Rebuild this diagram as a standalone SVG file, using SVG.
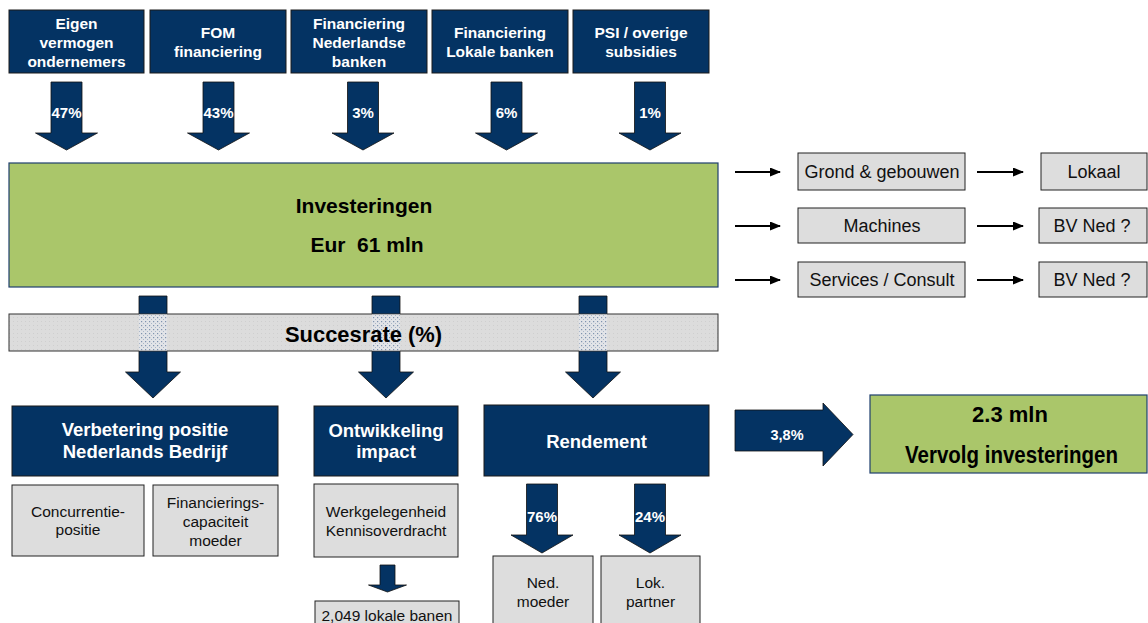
<svg xmlns="http://www.w3.org/2000/svg" width="1148" height="623" viewBox="0 0 1148 623">
<style>
.navy{fill:#043363;stroke:#1a1a1a;stroke-width:1}
.green{fill:#AAC66A;stroke:#1f3f6e;stroke-width:1.2}
.gray{fill:#DDDDDD;stroke:#222;stroke-width:1}
.arr{fill:#043363;stroke:#111;stroke-width:0.8}
.wb{font-family:"Liberation Sans",Arial,sans-serif;font-weight:bold;fill:#fff;text-anchor:middle}
.bb{font-family:"Liberation Sans",Arial,sans-serif;font-weight:bold;fill:#000;text-anchor:middle}
.n{font-family:"Liberation Sans",Arial,sans-serif;fill:#111;text-anchor:middle}
.line{stroke:#000;stroke-width:1.8;fill:none}
</style>
<defs>
<marker id="ah" markerUnits="userSpaceOnUse" markerWidth="11" markerHeight="9" refX="10" refY="4.5" orient="auto">
<path d="M0 0 L11 4.5 L0 9 Z" fill="#000"/>
</marker>
<pattern id="bandpat" width="4" height="4" patternUnits="userSpaceOnUse">
<rect width="4" height="4" fill="#DCDCDC"/>
<rect x="1" y="1" width="1" height="1" fill="#CFCFCF"/>
</pattern>
<pattern id="shaftpat" width="4" height="4" patternUnits="userSpaceOnUse">
<rect width="4" height="4" fill="#E2E4E8"/>
<rect x="1" y="1" width="1.2" height="1.2" fill="#7F93AE"/>
<rect x="3" y="3" width="1" height="1" fill="#A9B6C8"/>
</pattern>
</defs>

<g id="connectors">
<path class="arr" d="M51 82 H82 V133 H97.5 L66.5 150 L35.5 133 H51 Z"/>
<path class="arr" d="M203 82 H234 V133 H249.5 L218.5 150 L187.5 133 H203 Z"/>
<path class="arr" d="M347.5 82 H378.5 V133 H394 L363 150 L332 133 H347.5 Z"/>
<path class="arr" d="M491 82 H522 V133 H537.5 L506.5 150 L475.5 133 H491 Z"/>
<path class="arr" d="M634.5 82 H665.5 V133 H681 L650 150 L619 133 H634.5 Z"/>
<text class="wb" x="66.5" y="118" font-size="15">47%</text>
<text class="wb" x="218.5" y="118" font-size="15">43%</text>
<text class="wb" x="363" y="118" font-size="15">3%</text>
<text class="wb" x="506.5" y="118" font-size="15">6%</text>
<text class="wb" x="650" y="118" font-size="15">1%</text>

<path class="arr" d="M139 296 H167 V372 H180.5 L153 398 L125.5 372 H139 Z"/>
<path class="arr" d="M372 296 H400 V372 H413.5 L386 398 L358.5 372 H372 Z"/>
<path class="arr" d="M579 296 H607 V372 H620.5 L593 398 L565.5 372 H579 Z"/>

<path class="arr" d="M380 565 H395 V585 H406.5 L387.5 592 L368.5 585 H380 Z"/>

<path class="arr" d="M526.5 484 H557.5 V535 H573 L542 553 L511 535 H526.5 Z"/>
<path class="arr" d="M634.5 484 H665.5 V535 H681 L650 553 L619 535 H634.5 Z"/>
<text class="wb" x="542" y="522" font-size="15">76%</text>
<text class="wb" x="650" y="522" font-size="15">24%</text>

<path class="arr" d="M735 410 H823 V403 L853 434.5 L823 466 V451 H735 Z"/>
<text class="wb" x="787" y="440" font-size="14.5">3,8%</text>

<line class="line" x1="735" y1="172" x2="780" y2="172" marker-end="url(#ah)"/>
<line class="line" x1="735" y1="226" x2="780" y2="226" marker-end="url(#ah)"/>
<line class="line" x1="735" y1="280" x2="780" y2="280" marker-end="url(#ah)"/>
<line class="line" x1="977" y1="172" x2="1023" y2="172" marker-end="url(#ah)"/>
<line class="line" x1="977" y1="226" x2="1023" y2="226" marker-end="url(#ah)"/>
<line class="line" x1="977" y1="280" x2="1023" y2="280" marker-end="url(#ah)"/>
</g>

<g id="n-eigen">
<rect class="navy" x="9" y="10" width="135" height="63"/>
<text class="wb" font-size="15.5"><tspan x="76.5" y="29">Eigen</tspan><tspan x="76.5" y="48">vermogen</tspan><tspan x="76.5" y="67">ondernemers</tspan></text>
</g>
<g id="n-fom">
<rect class="navy" x="150" y="10" width="136" height="63"/>
<text class="wb" font-size="15.5"><tspan x="218" y="38">FOM</tspan><tspan x="218" y="57">financiering</tspan></text>
</g>
<g id="n-finned">
<rect class="navy" x="291" y="10" width="136" height="63"/>
<text class="wb" font-size="15.5"><tspan x="359" y="29">Financiering</tspan><tspan x="359" y="48">Nederlandse</tspan><tspan x="359" y="67">banken</tspan></text>
</g>
<g id="n-finlok">
<rect class="navy" x="432" y="10" width="136" height="63"/>
<text class="wb" font-size="15.5"><tspan x="500" y="38">Financiering</tspan><tspan x="500" y="57">Lokale banken</tspan></text>
</g>
<g id="n-psi">
<rect class="navy" x="573" y="10" width="136" height="63"/>
<text class="wb" font-size="15.5"><tspan x="641" y="38">PSI / overige</tspan><tspan x="641" y="57">subsidies</tspan></text>
</g>

<g id="n-investeringen">
<rect class="green" x="9" y="163" width="709" height="124"/>
<text class="bb" x="364" y="213" font-size="21">Investeringen</text>
<text class="bb" x="367" y="252" font-size="21" xml:space="preserve">Eur  61 mln</text>
</g>

<g id="n-succesrate">
<rect x="9" y="314" width="709" height="37" fill="url(#bandpat)" stroke="#333" stroke-width="1"/>
<rect x="139" y="314.5" width="28" height="36" fill="url(#shaftpat)"/>
<rect x="372" y="314.5" width="28" height="36" fill="url(#shaftpat)"/>
<rect x="579" y="314.5" width="28" height="36" fill="url(#shaftpat)"/>
<text class="bb" x="363.5" y="342" font-size="22" textLength="157" lengthAdjust="spacingAndGlyphs">Succesrate (%)</text>
</g>

<g id="n-grond">
<rect class="gray" x="798" y="153" width="167" height="37"/>
<text class="n" x="882" y="178" font-size="18">Grond &amp; gebouwen</text>
</g>
<g id="n-machines">
<rect class="gray" x="798" y="208" width="167" height="35"/>
<text class="n" x="882" y="232" font-size="18">Machines</text>
</g>
<g id="n-services">
<rect class="gray" x="798" y="262" width="167" height="35"/>
<text class="n" x="882" y="286" font-size="18">Services / Consult</text>
</g>
<g id="n-lokaal">
<rect class="gray" x="1041" y="153" width="106" height="37"/>
<text class="n" x="1094" y="178" font-size="18">Lokaal</text>
</g>
<g id="n-bvned1">
<rect class="gray" x="1039" y="208" width="108" height="35"/>
<text class="n" x="1092" y="232" font-size="18">BV Ned ?</text>
</g>
<g id="n-bvned2">
<rect class="gray" x="1039" y="262" width="108" height="35"/>
<text class="n" x="1092" y="286" font-size="18">BV Ned ?</text>
</g>

<g id="n-verbetering">
<rect class="navy" x="12" y="406" width="266" height="70"/>
<text class="wb" font-size="18.5"><tspan x="145" y="436">Verbetering positie</tspan><tspan x="145" y="458">Nederlands Bedrijf</tspan></text>
</g>
<g id="n-ontwikkeling">
<rect class="navy" x="314" y="406" width="144" height="70"/>
<text class="wb" font-size="18.5"><tspan x="386" y="437">Ontwikkeling</tspan><tspan x="386" y="458">impact</tspan></text>
</g>
<g id="n-rendement">
<rect class="navy" x="484" y="405" width="225" height="71"/>
<text class="wb" x="596.5" y="448" font-size="18.5">Rendement</text>
</g>

<g id="n-concurrentie">
<rect class="gray" x="12" y="485" width="132" height="71"/>
<text class="n" font-size="15.5"><tspan x="78" y="517">Concurrentie-</tspan><tspan x="78" y="535">positie</tspan></text>
</g>
<g id="n-financierings">
<rect class="gray" x="153" y="485" width="125" height="71"/>
<text class="n" font-size="15.5"><tspan x="215.5" y="508">Financierings-</tspan><tspan x="215.5" y="527">capaciteit</tspan><tspan x="215.5" y="546">moeder</tspan></text>
</g>
<g id="n-werkgelegenheid">
<rect class="gray" x="314" y="484" width="144" height="73"/>
<text class="n" font-size="15.5"><tspan x="386" y="517">Werkgelegenheid</tspan><tspan x="386" y="536">Kennisoverdracht</tspan></text>
</g>
<g id="n-banen">
<rect class="gray" x="315" y="601" width="144" height="30"/>
<text class="n" x="387" y="621" font-size="15.5">2,049 lokale banen</text>
</g>

<g id="n-nedmoeder">
<rect class="gray" x="493" y="556" width="100" height="75"/>
<text class="n" font-size="15.5"><tspan x="543" y="588">Ned.</tspan><tspan x="543" y="607">moeder</tspan></text>
</g>
<g id="n-lokpartner">
<rect class="gray" x="601" y="556" width="99" height="75"/>
<text class="n" font-size="15.5"><tspan x="650.5" y="588">Lok.</tspan><tspan x="650.5" y="607">partner</tspan></text>
</g>

<g id="n-vervolg">
<rect class="green" x="870" y="395" width="277" height="78"/>
<text class="bb" x="1010" y="422" font-size="22">2.3 mln</text>
<text class="bb" x="1011.5" y="463" font-size="23" textLength="213" lengthAdjust="spacingAndGlyphs">Vervolg investeringen</text>
</g>
</svg>
